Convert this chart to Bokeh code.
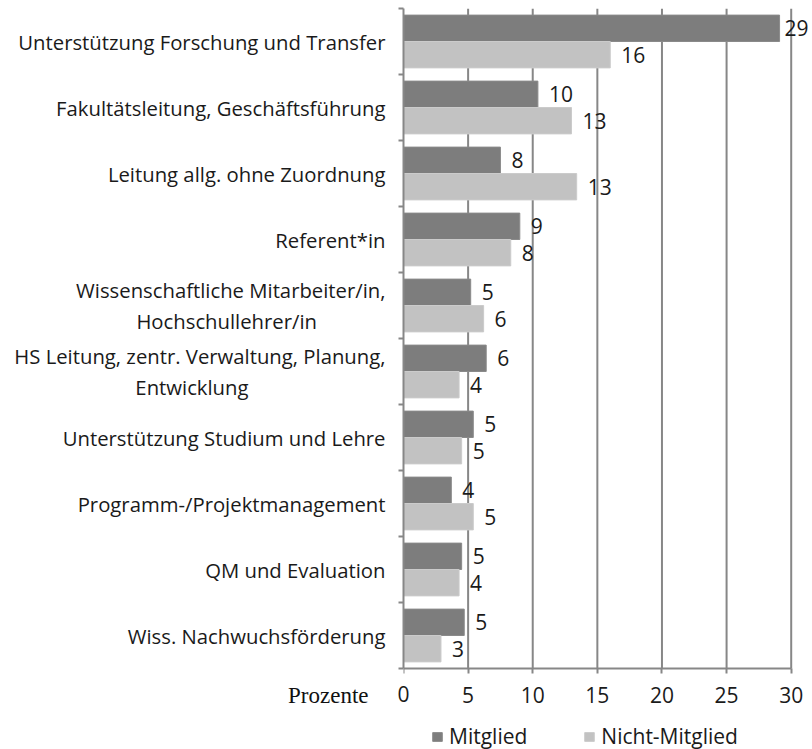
from bokeh.plotting import figure
from bokeh.models import (Range1d, FixedTicker, LabelSet, ColumnDataSource, Label,
                          Legend, LegendItem)
from bokeh.embed import file_html
from bokeh.resources import INLINE
from bokeh.core.properties import value

categories = [
    "Unterstützung Forschung und Transfer",
    "Fakultätsleitung, Geschäftsführung",
    "Leitung allg. ohne Zuordnung",
    "Referent*in",
    "Wissenschaftliche Mitarbeiter/in,\nHochschullehrer/in",
    "HS Leitung, zentr. Verwaltung, Planung,\nEntwicklung",
    "Unterstützung Studium und Lehre",
    "Programm-/Projektmanagement",
    "QM und Evaluation",
    "Wiss. Nachwuchsförderung",
]
mitglied = [29.1, 10.4, 7.5, 9.0, 5.2, 6.4, 5.4, 3.7, 4.5, 4.7]
nicht_mitglied = [16.0, 13.0, 13.4, 8.3, 6.2, 4.3, 4.5, 5.4, 4.3, 2.9]
mitglied_labels = ["29", "10", "8", "9", "5", "6", "5", "4", "5", "5"]
nicht_labels = ["16", "13", "13", "8", "6", "4", "5", "5", "4", "3"]
x_ticks = [0, 5, 10, 15, 20, 25, 30]
series_names = ["Mitglied", "Nicht-Mitglied"]
x_title = "Prozente"

FONT = "Open Sans"
DARK = "#7d7d7d"
LIGHT = "#c2c2c2"
GRID = "#878787"
TXT = "#1a1a1a"

n = len(categories)
centers = [n - i - 0.5 for i in range(n)]
x_max = x_ticks[-1]

# layout (pixels): plot band 660 px tall, 92 px extra below it for tick labels + legend
BAND_PX = 660
EXTRA_PX = 92
FRAME_W = 409
x_view_end = x_max * FRAME_W / 387.7          # room right of 30 for the data labels
y_view_start = -EXTRA_PX * n / BAND_PX         # room below 0 for ticks, title, legend
TICK_LABEL_Y = -0.39                           # tick-label row, in y data units

# centre the second line of the two-line labels under the first one
NB = "\u00a0"
pads = {4: 13, 5: 26}
cat_display = []
for i, c in enumerate(categories):
    if i in pads:
        a, b = c.split("\n")
        c = a + "\n" + b + NB * pads[i]
    cat_display.append(c)

src_m = ColumnDataSource(dict(y=[c + 0.2 for c in centers], right=mitglied, lab=mitglied_labels,
                              off=[5 if v > x_max - 2 else 11 for v in mitglied]))
src_n = ColumnDataSource(dict(y=[c - 0.2 for c in centers], right=nicht_mitglied, lab=nicht_labels,
                              off=[5 if v > x_max - 2 else 11 for v in nicht_mitglied]))

p = figure(frame_width=FRAME_W, frame_height=BAND_PX + EXTRA_PX,
           x_range=Range1d(0, x_view_end), y_range=Range1d(y_view_start, n),
           output_backend="svg", toolbar_location=None,
           min_border_left=403, min_border_right=0, min_border_top=8, min_border_bottom=0)
p.outline_line_color = None
p.background_fill_color = "white"
p.border_fill_color = "white"

# vertical grid lines (only over the bar area), behind the bars
grid_x = x_ticks[1:]
p.segment(x0=grid_x, x1=grid_x, y0=[0] * len(grid_x), y1=[n] * len(grid_x),
          line_color=GRID, line_width=2)
p.xgrid.visible = False
p.ygrid.visible = False

r_m = p.hbar(y="y", right="right", left=0, height=0.4, source=src_m,
             fill_color=DARK, line_color="#8a8a8a", line_width=1)
r_n = p.hbar(y="y", right="right", left=0, height=0.4, source=src_n,
             fill_color=LIGHT, line_color="#cbcbcb", line_width=1)

# x axis, fixed at y = 0
xa = p.xaxis[0]
xa.fixed_location = 0
xa.ticker = FixedTicker(ticks=x_ticks)
xa.bounds = (x_ticks[0], x_ticks[-1])
xa.major_label_overrides = {x_ticks[0]: ""}   # first label drawn below (would be clipped)
xa.axis_line_color = GRID
xa.axis_line_width = 2
xa.major_tick_line_color = GRID
xa.major_tick_line_width = 2
xa.major_tick_out = 5
xa.major_tick_in = 0
xa.minor_tick_line_color = None
xa.major_label_text_font = FONT
xa.major_label_text_font_size = "21px"
xa.major_label_text_color = TXT
xa.major_label_standoff = 13

# y axis
ya = p.yaxis[0]
ya.bounds = (0, n)
ya.ticker = FixedTicker(ticks=centers, minor_ticks=list(range(n + 1)))
ya.major_label_overrides = {c: lab for c, lab in zip(centers, cat_display)}
ya.axis_line_color = GRID
ya.axis_line_width = 2
ya.major_tick_line_color = None
ya.major_tick_out = 0
ya.major_tick_in = 0
ya.minor_tick_line_color = GRID
ya.minor_tick_line_width = 2
ya.minor_tick_out = 5
ya.minor_tick_in = 0
ya.major_label_text_font = FONT
ya.major_label_text_font_size = "20.3px"
ya.major_label_text_color = TXT
ya.major_label_text_line_height = 1.1
ya.major_label_standoff = 13

# data labels
for src in (src_m, src_n):
    ls = LabelSet(x="right", y="y", text="lab", source=src, x_offset="off",
                  text_align="left", text_baseline="middle",
                  text_font=value(FONT), text_font_size=value("21px"), text_color=TXT)
    p.add_layout(ls)

# first tick label and axis title, in a side panel so they are not clipped
p.add_layout(Label(x=x_ticks[0], y=TICK_LABEL_Y, text=str(x_ticks[0]), text_align="center",
                   text_baseline="middle", text_font=FONT, text_font_size="21px",
                   text_color=TXT), "below")
p.add_layout(Label(x=x_ticks[0], y=-0.41, x_offset=-35, text=x_title, text_align="right",
                   text_baseline="middle", text_font="Liberation Serif",
                   text_font_size="23px", text_color="#111111"), "below")

legend = Legend(items=[LegendItem(label=series_names[0], renderers=[r_m]),
                       LegendItem(label=series_names[1], renderers=[r_n])],
                orientation="horizontal", location=(28, 10),
                label_text_font=FONT, label_text_font_size="21px",
                label_text_color=TXT, glyph_width=12, glyph_height=11,
                spacing=56, label_standoff=6, border_line_color=None,
                background_fill_alpha=0, padding=0, margin=0)
p.add_layout(legend)

open("out.html", "w").write(file_html(p, INLINE))
